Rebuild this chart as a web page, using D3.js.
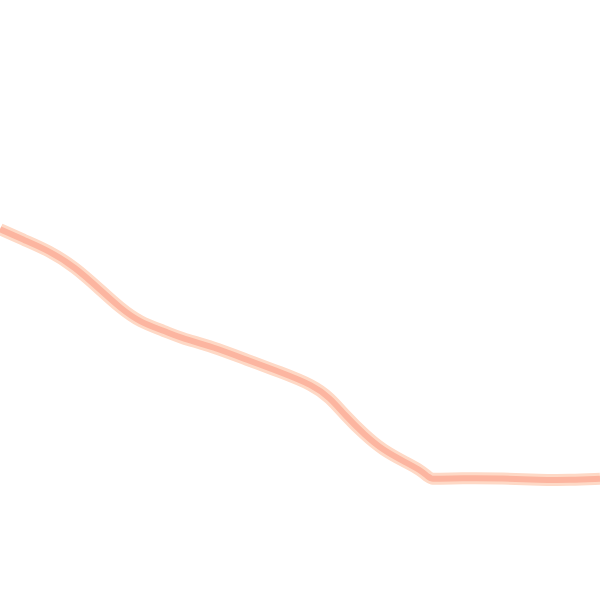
<!DOCTYPE html>
<html>
<head>
<meta charset="utf-8">
<script src="https://cdn.jsdelivr.net/npm/d3@7"></script>
<style>
  body { margin: 0; background: #fff; }
</style>
</head>
<body>
<div class="chart"></div>
<script>
const xValues = [0, 4, 8, 12.5, 16.7, 20, 23.3, 27.5, 30, 35.5, 41.2, 46.7, 52.2, 55, 57.5, 60.8, 63.8, 67.5, 70, 71.5, 72, 72.5, 76.7, 83.3, 90, 95, 100];
const yValues = [61.8, 60, 58.3, 55.5, 51.7, 48.7, 46.3, 44.8, 43.7, 42.2, 40, 38, 35.8, 33.7, 30.8, 27.5, 25, 23, 21.7, 20.4, 20.2, 20.2, 20.3, 20.3, 20, 20, 20.2];

const width = 600, height = 600;
const data = xValues.map((x, i) => ({x: x, y: yValues[i]}));

const svg = d3.select('.chart').append('svg')
    .attr('width', width)
    .attr('height', height);

const xScale = d3.scaleLinear().domain([0, 100]).range([0, width]);
const yScale = d3.scaleLinear().domain([0, 100]).range([height, 0]);

const line = d3.line()
    .x(d => xScale(d.x))
    .y(d => yScale(d.y))
    .curve(d3.curveBasis);

// soft outer edge
svg.append('path')
    .datum(data)
    .attr('fill', 'none')
    .attr('stroke', '#fed9c6')
    .attr('stroke-width', 12)
    .attr('d', line);

svg.append('path')
    .datum(data)
    .attr('fill', 'none')
    .attr('stroke', '#fcb5a0')
    .attr('stroke-width', 6)
    .attr('d', line);
</script>
</body>
</html>
